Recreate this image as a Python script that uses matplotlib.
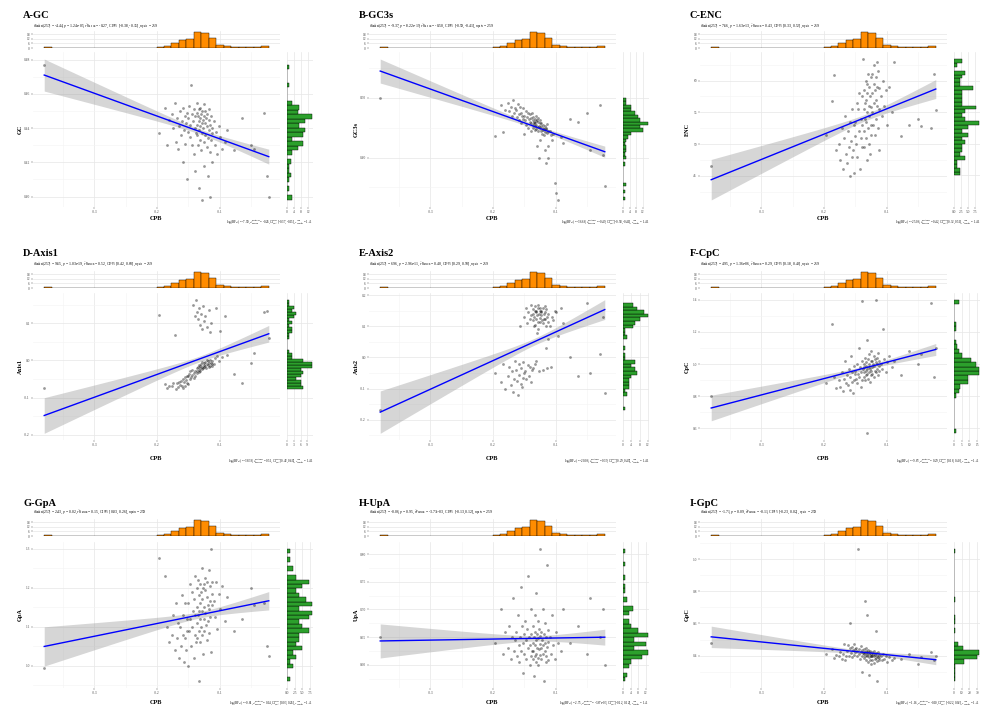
import numpy as np
import matplotlib
matplotlib.use("Agg")
import matplotlib.pyplot as plt
from matplotlib.ticker import MaxNLocator, FormatStrFormatter, FixedLocator

plt.rcParams['font.family'] = ['Liberation Serif', 'DejaVu Serif']
plt.rcParams['mathtext.fontset'] = 'stix'

# shared x variable (codon pair bias)
cpb = [-0.380,
       -0.197, -0.188, -0.185, -0.181,
       -0.176, -0.174, -0.172, -0.170, -0.168, -0.166, -0.165,
       -0.163, -0.162, -0.160, -0.159, -0.158, -0.157, -0.156, -0.155, -0.154, -0.153, -0.152, -0.151,
       -0.150, -0.149, -0.148, -0.147, -0.146, -0.145, -0.144, -0.143, -0.142, -0.141, -0.140, -0.140, -0.139, -0.138,
       -0.137, -0.137, -0.136, -0.136, -0.135, -0.135, -0.134, -0.134, -0.133, -0.133,
       -0.132, -0.132, -0.131, -0.131, -0.130, -0.130, -0.129, -0.129, -0.128, -0.128,
       -0.127, -0.127, -0.126, -0.126, -0.125, -0.125,
       -0.124, -0.123, -0.123, -0.122, -0.121, -0.121, -0.120, -0.119, -0.119, -0.118,
       -0.117, -0.117, -0.116, -0.115, -0.115, -0.114, -0.114, -0.113, -0.112, -0.112,
       -0.110, -0.108, -0.106, -0.104, -0.102, -0.100, -0.096, -0.092, -0.088,
       -0.078, -0.065, -0.050, -0.045, -0.030, -0.025, -0.022]

gc = [0.477,
      0.437, 0.452, 0.430, 0.445,
      0.448, 0.440, 0.455, 0.432, 0.446, 0.428, 0.441,
      0.450, 0.436, 0.444, 0.420, 0.452, 0.439, 0.447, 0.431, 0.443, 0.410, 0.449, 0.438,
      0.446, 0.453, 0.435, 0.442, 0.465, 0.448, 0.430, 0.444, 0.451, 0.425, 0.440, 0.447, 0.415, 0.437,
      0.449, 0.442, 0.455, 0.436, 0.447, 0.430, 0.444, 0.451, 0.439, 0.405,
      0.446, 0.433, 0.452, 0.441, 0.448, 0.427, 0.443, 0.450, 0.437, 0.398,
      0.445, 0.440, 0.454, 0.432, 0.447, 0.418,
      0.443, 0.450, 0.436, 0.446, 0.429, 0.441, 0.448, 0.434, 0.412, 0.445,
      0.439, 0.451, 0.426, 0.442, 0.400, 0.447, 0.433, 0.440, 0.420, 0.437,
      0.444, 0.430, 0.438, 0.425, 0.441, 0.435, 0.428, 0.432, 0.439,
      0.427, 0.446, 0.430, 0.428, 0.449, 0.412, 0.400]

gc3s = [0.500,
        0.436, 0.488, 0.443, 0.480,
        0.492, 0.478, 0.485, 0.470, 0.497, 0.475, 0.483,
        0.480, 0.468, 0.490, 0.472, 0.462, 0.485, 0.475, 0.458, 0.470, 0.482, 0.465, 0.440,
        0.470, 0.462, 0.478, 0.455, 0.468, 0.474, 0.450, 0.465, 0.460, 0.472, 0.445, 0.466, 0.458, 0.475,
        0.462, 0.455, 0.468, 0.450, 0.460, 0.457, 0.465, 0.446, 0.458, 0.452,
        0.470, 0.448, 0.461, 0.455, 0.420, 0.463, 0.451, 0.459, 0.444, 0.466,
        0.453, 0.400, 0.457, 0.449, 0.462, 0.430,
        0.452, 0.445, 0.458, 0.440, 0.450, 0.446, 0.455, 0.437, 0.448, 0.412,
        0.453, 0.443, 0.450, 0.390, 0.447, 0.441, 0.456, 0.420, 0.444, 0.400,
        0.445, 0.438, 0.430, 0.440, 0.357, 0.341, 0.329, 0.435, 0.425,
        0.464, 0.459, 0.475, 0.412, 0.488, 0.404, 0.352]

enc = [46.5,
       51.5, 56.8, 60.9, 49.0,
       50.0, 47.5, 52.5, 46.0, 51.0, 54.5, 48.5,
       47.0, 52.0, 49.5, 45.0, 53.5, 50.5, 48.0, 55.5, 49.0, 53.0, 45.5, 51.3,
       53.5, 50.0, 56.5, 48.0, 55.5, 52.0, 58.0, 46.0, 54.0, 51.0, 57.5, 49.5, 53.0, 63.4,
       55.5, 52.0, 58.5, 49.5, 56.5, 54.0, 60.0, 51.0, 57.0, 53.5,
       59.5, 47.5, 55.0, 58.0, 52.5, 61.0, 50.0, 56.0, 54.5, 59.0,
       48.5, 57.5, 53.0, 60.5, 55.8, 51.5,
       58.0, 55.0, 61.0, 53.0, 59.5, 56.5, 62.5, 51.5, 58.5, 57.0,
       60.5, 54.0, 63.0, 56.0, 59.0, 52.5, 61.5, 55.5, 58.8, 49.0,
       57.5, 54.5, 60.0, 56.0, 58.5, 53.0, 59.0, 55.0, 63.0,
       51.2, 53.0, 54.0, 52.9, 52.6, 61.0, 55.3]

axis1 = [-0.075,
         0.123, -0.065, -0.075, -0.068,
         -0.070, -0.062, 0.069, -0.078, -0.060, -0.072, -0.058,
         -0.066, -0.055, -0.070, -0.050, -0.075, -0.058, -0.045, -0.068, -0.052, -0.060, -0.042, -0.064,
         -0.042, -0.036, -0.050, -0.030, -0.045, -0.025, -0.039, 0.150, -0.033, -0.047, 0.120, -0.028, -0.041, 0.163,
         -0.030, -0.022, 0.130, -0.035, -0.018, 0.110, -0.026, -0.012, 0.140, -0.031,
         -0.020, 0.095, -0.015, -0.028, 0.125, -0.010, -0.024, 0.085, -0.017, -0.005,
         0.145, -0.021, -0.013, 0.105, -0.008, -0.019,
         -0.015, -0.005, 0.118, -0.020, -0.010, 0.000, 0.090, -0.012, -0.003, 0.135,
         -0.018, -0.008, 0.075, -0.014, 0.002, -0.006, 0.100, -0.011, -0.001, -0.016,
         -0.010, 0.005, 0.140, 0.012, -0.003, 0.080, 0.008, 0.120, 0.015,
         -0.037, -0.060, -0.006, 0.020, 0.129, 0.133, 0.060]

axis2 = [-0.170,
         -0.050, -0.080, -0.020, -0.100,
         -0.060, -0.030, -0.090, -0.045, -0.110, -0.070, -0.010,
         -0.040, -0.075, -0.120, -0.020, -0.055, 0.100, -0.085, -0.035, -0.095, -0.065, -0.015, -0.050,
         0.130, -0.045, 0.160, -0.070, 0.110, -0.025, 0.145, -0.060, 0.125, -0.030, 0.170, -0.080, 0.135, -0.040,
         0.140, -0.035, 0.120, 0.155, 0.100, 0.130, -0.020, 0.165, 0.105, 0.150,
         0.145, 0.125, -0.010, 0.150, 0.080, 0.135, 0.115, 0.170, 0.160, 0.090,
         -0.045, 0.140, 0.128, 0.115, 0.150, 0.160,
         0.135, 0.145, 0.150, 0.120, -0.040, 0.160, 0.110, 0.125, 0.140, 0.125,
         0.165, 0.145, 0.030, 0.100, 0.155, 0.130, -0.035, 0.115, 0.060, 0.140,
         0.100, -0.030, 0.130, 0.120, 0.150, 0.145, 0.070, 0.160, 0.110,
         0.000, -0.060, 0.175, -0.050, 0.010, 0.130, -0.115]

cpc = [0.80,
       0.88, 1.25, 0.92, 0.85,
       0.90, 0.86, 0.95, 0.83, 0.91, 1.02, 0.88,
       0.93, 0.87, 0.97, 0.84, 0.92, 1.05, 0.89, 0.95, 0.82, 0.99, 0.90, 0.94,
       0.96, 0.91, 1.00, 0.88, 0.94, 1.10, 0.92, 0.98, 0.86, 0.95, 1.02, 0.90, 1.39, 0.97,
       0.95, 1.00, 0.92, 0.98, 1.04, 0.90, 0.96, 1.01, 0.93, 0.99,
       1.15, 0.94, 0.57, 0.97, 1.03, 0.91, 0.98, 1.06, 0.95, 1.00,
       0.89, 0.97, 1.02, 0.93, 1.08, 0.96,
       0.98, 1.02, 0.94, 1.00, 1.05, 0.92, 0.99, 1.03, 0.96, 1.01,
       1.40, 0.95, 1.04, 0.97, 1.00, 1.07, 0.93, 0.99, 1.02, 0.96,
       1.00, 0.97, 1.22, 1.03, 0.95, 1.01, 1.05, 0.98, 1.02,
       0.93, 1.08, 1.00, 1.06, 1.38, 0.92, 1.10]

gpa = [0.995,
       1.275, 1.230, 1.100, 1.060,
       1.080, 1.130, 1.040, 1.160, 1.070, 1.110, 1.020,
       1.100, 1.050, 1.180, 1.080, 1.130, 1.010, 1.070, 1.160, 1.040, 1.120, 1.090, 1.000,
       1.160, 1.090, 1.210, 1.120, 1.050, 1.190, 1.100, 1.140, 1.020, 1.170, 1.080, 1.230, 1.130, 1.060,
       1.200, 1.110, 1.150, 1.070, 1.220, 1.130, 1.180, 1.090, 1.140, 0.960,
       1.210, 1.120, 1.160, 1.060, 1.190, 1.100, 1.250, 1.140, 1.080, 1.170,
       1.030, 1.200, 1.120, 1.150, 1.090, 1.210,
       1.195, 1.135, 1.225, 1.105, 1.175, 1.065, 1.215, 1.155, 1.115, 1.245,
       1.145, 1.085, 1.205, 1.165, 1.125, 1.300, 1.035, 1.185, 1.155, 1.215,
       1.165, 1.125, 1.215, 1.095, 1.185, 1.145, 1.205, 1.115, 1.175,
       1.090, 1.120, 1.200, 1.155, 1.160, 1.050, 1.025]

upa = [0.650,
       0.640, 0.700, 0.620, 0.660,
       0.630, 0.670, 0.610, 0.650, 0.720, 0.625, 0.645,
       0.660, 0.615, 0.690, 0.635, 0.605, 0.650, 0.740, 0.625, 0.670, 0.585, 0.640, 0.655,
       0.620, 0.680, 0.645, 0.610, 0.665, 0.630, 0.760, 0.650, 0.600, 0.635, 0.700, 0.615, 0.655, 0.625,
       0.640, 0.610, 0.670, 0.625, 0.650, 0.580, 0.690, 0.635, 0.615, 0.660,
       0.620, 0.730, 0.645, 0.605, 0.655, 0.630, 0.680, 0.612, 0.648, 0.600,
       0.665, 0.628, 0.810, 0.638, 0.618, 0.652,
       0.630, 0.660, 0.610, 0.645, 0.620, 0.700, 0.635, 0.570, 0.655, 0.625,
       0.675, 0.640, 0.605, 0.650, 0.615, 0.780, 0.632, 0.662, 0.608, 0.642,
       0.650, 0.620, 0.690, 0.635, 0.610, 0.660, 0.640, 0.625, 0.700,
       0.640, 0.670, 0.620, 0.720, 0.650, 0.700, 0.600]

gpc = [0.480,
       0.410, 0.440, 0.385, 0.405,
       0.400, 0.425, 0.380, 0.410, 0.470, 0.375, 0.400,
       0.430, 0.465, 0.400, 0.445, 0.600, 0.415, 0.455, 0.390, 0.435, 0.475, 0.405, 0.440,
       0.420, 0.450, 0.395, 0.430, 1.065, 0.410, 0.440, 0.380, 0.425, 0.460, 0.400, 0.435, 0.300, 0.415,
       0.410, 0.440, 0.385, 0.420, 0.740, 0.400, 0.430, 0.370, 0.415, 0.445,
       0.395, 0.425, 0.650, 0.405, 0.435, 0.360, 0.410, 0.280, 0.390, 0.420,
       0.375, 0.430, 0.400, 0.345, 0.412, 0.398,
       0.400, 0.425, 0.375, 0.410, 0.355, 0.395, 0.430, 0.380, 0.405, 0.550,
       0.385, 0.415, 0.365, 0.400, 0.240, 0.390, 0.420, 0.370, 0.405, 0.385,
       0.395, 0.370, 0.410, 0.380, 0.400, 0.360, 0.390, 0.375, 0.385,
       0.380, 0.410, 0.350, 0.390, 0.420, 0.370, 0.400]

titles = ["A-GC", "B-GC3s", "C-ENC", "D-Axis1", "E-Axis2", "F-CpC", "G-GpA", "H-UpA", "I-GpC"]
ylabels = ["GC", "GC3s", "ENC", "Axis1", "Axis2", "CpC", "GpA", "UpA", "GpC"]
series = [gc, gc3s, enc, axis1, axis2, cpc, gpa, upa, gpc]
yticks = [[0.40, 0.42, 0.44, 0.46, 0.48], [0.4, 0.5], [40, 45, 50, 55, 60],
          [-0.2, -0.1, 0.0, 0.1], [-0.2, -0.1, 0.0, 0.1, 0.2], [0.6, 0.8, 1.0, 1.2, 1.4],
          [1.0, 1.1, 1.2, 1.3], [0.60, 0.65, 0.70, 0.75, 0.80], [0.4, 0.6, 0.8, 1.0]]
yfmts = ["%.2f", "%.2f", "%d", "%.1f", "%.1f", "%.1f", "%.1f", "%.2f", "%.1f"]
xticks = [-0.3, -0.2, -0.1]
n_pairs = 259  # sample size reported on the chart, used for the CI band width

# t, p, r, CI low, CI high | log BF, rho, HDI low, HDI high
stats = [("-4.44", "1.24e-05", "-0.27", "-0.38", "-0.15", "-7.90", "-0.26", "-0.37", "-0.15"),
         ("-9.37", "8.22e-19", "-0.50", "-0.59", "-0.41", "-36.68", "-0.49", "-0.58", "-0.41"),
         ("7.66", "1.63e-13", "0.43", "0.33", "0.52", "-25.06", "0.42", "0.32", "0.51"),
         ("9.65", "1.03e-19", "0.52", "0.42", "0.60", "-38.38", "0.51", "0.42", "0.60"),
         ("6.96", "2.96e-11", "0.40", "0.29", "0.50", "-20.06", "0.39", "0.29", "0.49"),
         ("4.95", "1.36e-06", "0.29", "0.18", "0.40", "-9.83", "0.29", "0.18", "0.40"),
         ("2.43", "0.02", "0.15", "0.03", "0.26", "-0.81", "0.14", "0.03", "0.26"),
         ("-0.06", "0.95", "-3.73e-03", "-0.13", "0.12", "2.75", "-3.67e-03", "-0.12", "0.12"),
         ("-1.71", "0.09", "-0.11", "-0.23", "0.02", "1.16", "-0.10", "-0.22", "0.02")]

W, H = 982, 707
ROWS = [dict(title=15, sub=27, top=(31, 48), main=(52, 207), xlab=218, cap=222),
        dict(title=253, sub=265, top=(271, 288), main=(293, 440), xlab=458, cap=461),
        dict(title=503, sub=513, top=(519, 536), main=(542, 688), xlab=702, cap=703)]
COLS = [0, 336, 667]
ORANGE = "#FF8C00"
GREEN = "#2CA02C"
GRID = "#E6E6E6"
GRID_MINOR = "#F3F3F3"


def px_rect(x0, y0, x1, y1):
    return [x0 / W, 1 - y1 / H, (x1 - x0) / W, (y1 - y0) / H]


def style(ax):
    for s in ax.spines.values():
        s.set_visible(False)
    ax.grid(True, which='major', color=GRID, lw=0.5)
    ax.grid(True, which='minor', color=GRID_MINOR, lw=0.4)
    ax.set_axisbelow(True)
    ax.tick_params(which='both', labelsize=2.6, colors='#4D4D4D', length=1.2, width=0.3, pad=1)
    ax.tick_params(which='minor', length=0)


def draw_panel(fig, i):
    row, col = ROWS[i // 3], COLS[i % 3]
    x = np.asarray(cpb)
    y = np.asarray(series[i], dtype=float)
    t, p, r, lo, hi, bf, rho, hlo, hhi = stats[i]

    ax = fig.add_axes(px_rect(33 + col, row['main'][0], 280 + col, row['main'][1]))
    axt = fig.add_axes(px_rect(33 + col, row['top'][0], 280 + col, row['top'][1]))
    axr = fig.add_axes(px_rect(287 + col, row['main'][0], 313 + col, row['main'][1]))

    # linear fit with 95% confidence band (scaled to the reported n)
    b, a = np.polyfit(x, y, 1)
    xs = np.linspace(x.min(), x.max(), 100)
    fit = a + b * xs
    s = np.sqrt(np.sum((y - (a + b * x)) ** 2) / (len(x) - 2))
    sxx = np.sum((x - x.mean()) ** 2) * n_pairs / len(x)
    se = s * np.sqrt(1 / n_pairs + (xs - x.mean()) ** 2 / sxx)
    ax.fill_between(xs, fit - 1.97 * se, fit + 1.97 * se, color='#999999', alpha=0.4, lw=0)
    ax.scatter(x, y, s=4, color='black', alpha=0.4, lw=0)
    ax.plot(xs, fit, color='blue', lw=1.0)

    xr = x.max() - x.min()
    xlim = (x.min() - 0.05 * xr, x.max() + 0.05 * xr)
    ymin = min(y.min(), (fit - 1.97 * se).min())
    ymax = max(y.max(), (fit + 1.97 * se).max())
    yr = ymax - ymin
    ylim = (ymin - 0.05 * yr, ymax + 0.05 * yr)
    ax.set_xlim(xlim)
    ax.set_ylim(ylim)

    style(ax)
    ax.xaxis.set_major_locator(FixedLocator(xticks))
    ax.xaxis.set_minor_locator(FixedLocator([-0.35, -0.25, -0.15, -0.05]))
    ax.xaxis.set_major_formatter(FormatStrFormatter("%.1f"))
    yt = yticks[i]
    step = yt[1] - yt[0]
    ax.yaxis.set_major_locator(FixedLocator(yt))
    ax.yaxis.set_minor_locator(FixedLocator([v - step / 2 for v in yt] + [yt[-1] + step / 2]))
    ax.yaxis.set_major_formatter(FormatStrFormatter(yfmts[i]))

    # marginal histograms
    axt.hist(x, bins=30, color=ORANGE, edgecolor='black', lw=0.3)
    axt.set_xlim(xlim)
    style(axt)
    axt.set_xticks(xticks)
    axt.tick_params(axis='x', labelbottom=False, length=0)
    axt.yaxis.set_major_locator(MaxNLocator(4))

    axr.hist(y, bins=30, orientation='horizontal', color=GREEN, edgecolor='black', lw=0.3)
    axr.set_ylim(ylim)
    style(axr)
    axr.set_yticks(yt)
    axr.tick_params(axis='y', labelleft=False, length=0)
    axr.xaxis.set_major_locator(MaxNLocator(4))

    # texts
    fig.text((23 + col) / W, 1 - row['title'] / H, titles[i], fontsize=7.5,
             fontweight='bold', ha='left', va='center')
    sub = (r"$t_{\mathrm{Student}}$(257) = " + t + r", $p$ = " + p +
           r", $\widehat{r}_{\mathrm{Pearson}}$ = " + r + r", CI$_{95\%}$ [" + lo + ", " + hi +
           r"], $n_{\mathrm{pairs}}$ = 259")
    fig.text((33 + col) / W, 1 - row['sub'] / H, sub, fontsize=2.7, ha='left', va='center')
    cap = (r"log$_{e}$(BF$_{01}$) = " + bf +
           r", $\widehat{\rho}_{\mathrm{Pearson}}^{\mathrm{posterior}}$ = " + rho +
           r", CI$_{95\%}^{\mathrm{HDI}}$ [" + hlo + ", " + hhi +
           r"], $r_{\mathrm{Cauchy}}^{\mathrm{JZS}}$ = 1.41")
    fig.text((313 + col) / W, 1 - row['cap'] / H, cap, fontsize=2.2, ha='right', va='center')
    fig.text((156 + col) / W, 1 - row['xlab'] / H, "CPB", fontsize=4.5,
             fontweight='bold', ha='center', va='center')
    ymid = (row['main'][0] + row['main'][1]) / 2
    fig.text((20 + col) / W, 1 - ymid / H, ylabels[i], fontsize=4.5, fontweight='bold',
             rotation=90, ha='center', va='center')


fig = plt.figure(figsize=(W / 100, H / 100), dpi=100)
fig.patch.set_facecolor('white')
for k in range(9):
    draw_panel(fig, k)
fig.savefig("out.png", dpi=100, facecolor='white')
